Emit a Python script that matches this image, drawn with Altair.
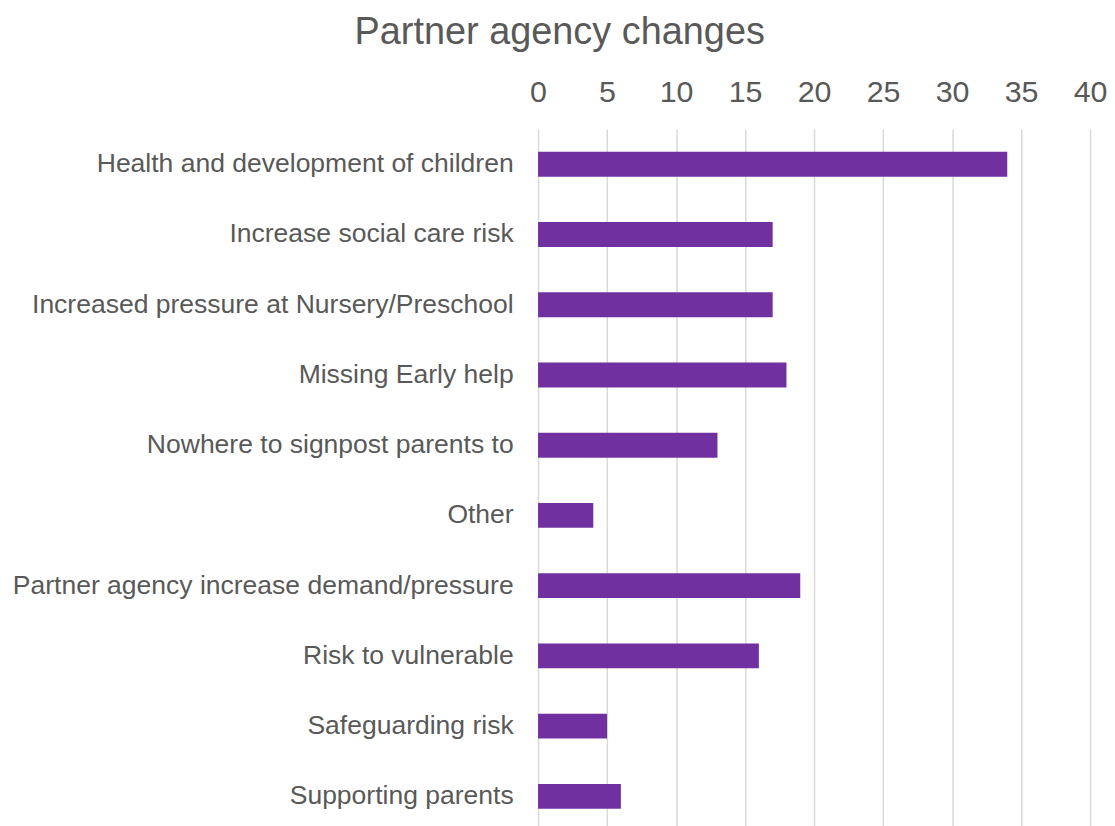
import altair as alt
import pandas as pd

categories = [
    "Health and development of children",
    "Increase social care risk",
    "Increased pressure at Nursery/Preschool",
    "Missing Early help",
    "Nowhere to signpost parents to",
    "Other",
    "Partner agency increase demand/pressure",
    "Risk to vulnerable",
    "Safeguarding risk",
    "Supporting parents",
]
values = [34, 17, 17, 18, 13, 4, 19, 16, 5, 6]

df = pd.DataFrame({"category": categories, "value": values})

FONT = "Liberation Sans"
GREY = "#595959"

chart = (
    alt.Chart(df)
    .mark_bar(color="#7030A0")
    .encode(
        x=alt.X(
            "value:Q",
            scale=alt.Scale(domain=[0, 40], nice=False),
            axis=alt.Axis(
                orient="top",
                values=list(range(0, 45, 5)),
                title=None,
                domain=False,
                ticks=False,
                labelFontSize=30.5,
                labelColor=GREY,
                labelFont=FONT,
                labelPadding=22,
                labelFlush=False,
                grid=True,
                gridColor="#D9D9D9",
                gridWidth=1.5,
            ),
        ),
        y=alt.Y(
            "category:N",
            sort=categories,
            scale=alt.Scale(paddingInner=0.645, paddingOuter=0.3225),
            axis=alt.Axis(
                title=None,
                domain=False,
                ticks=False,
                labelFontSize=26.6,
                labelColor=GREY,
                labelFont=FONT,
                labelPadding=25,
                labelLimit=600,
            ),
        ),
    )
    .properties(
        width=554,
        height=705,
        padding={"top": 5, "left": 4, "right": 0, "bottom": 0},
        title=alt.TitleParams(
            "Partner agency changes",
            fontSize=38,
            font=FONT,
            color=GREY,
            fontWeight="normal",
            anchor="middle",
            frame="bounds",
            offset=25,
        ),
    )
    .configure_view(stroke=None)
)

chart.save("out.html", embed_options={"renderer": "svg", "actions": False})
